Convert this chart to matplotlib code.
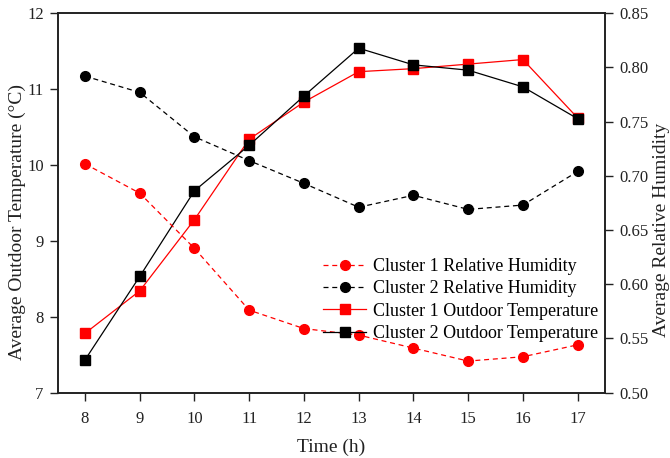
import matplotlib
matplotlib.use("Agg")
import matplotlib.pyplot as plt

plt.rcParams['font.family'] = ['Liberation Serif', 'DejaVu Serif']
plt.rcParams['mathtext.fontset'] = 'stix'

hours = [8, 9, 10, 11, 12, 13, 14, 15, 16, 17]
c1_temp = [7.78, 8.34, 9.28, 10.34, 10.83, 11.23, 11.27, 11.33, 11.39, 10.62]
c2_temp = [7.43, 8.53, 9.66, 10.26, 10.91, 11.54, 11.32, 11.25, 11.03, 10.61]
c1_rh = [0.711, 0.684, 0.633, 0.576, 0.559, 0.553, 0.541, 0.529, 0.533, 0.544]
c2_rh = [0.792, 0.777, 0.736, 0.714, 0.693, 0.671, 0.682, 0.669, 0.673, 0.704]

labels = ['Cluster 1 Relative Humidity', 'Cluster 2 Relative Humidity',
          'Cluster 1 Outdoor Temperature', 'Cluster 2 Outdoor Temperature']

fig = plt.figure(figsize=(6.7, 4.58), dpi=100)
ax = fig.add_axes([0.086, 0.143, 0.817, 0.828])
ax2 = ax.twinx()

l3, = ax.plot(hours, c1_temp, color='#ff0000', lw=0.9, marker='s', ms=6.5, label=labels[2])
l4, = ax.plot(hours, c2_temp, color='black', lw=0.9, marker='s', ms=6.5, label=labels[3])
l1, = ax2.plot(hours, c1_rh, color='#ff0000', lw=0.9, ls=(0, (4, 3)), marker='o', ms=7, label=labels[0])
l2, = ax2.plot(hours, c2_rh, color='black', lw=0.9, ls=(0, (4, 3)), marker='o', ms=7, label=labels[1])

ax.set_xlim(7.5, 17.5)
ax.set_ylim(7, 12)
ax2.set_ylim(0.50, 0.85)
ax.set_xticks(hours)
ax.set_yticks([7, 8, 9, 10, 11, 12])
rh_ticks = [0.50, 0.55, 0.60, 0.65, 0.70, 0.75, 0.80, 0.85]
ax2.set_yticks(rh_ticks)
ax2.set_yticklabels([f'{v:.2f}' for v in rh_ticks])

for a in (ax, ax2):
    a.tick_params(direction='out', length=6, width=1, labelsize=12, colors='#222222', pad=4)
    for s in a.spines.values():
        s.set_linewidth(1.2)
        s.set_color('#222222')
ax.tick_params(axis='x', pad=7)

ax.set_xlabel('Time (h)', fontsize=14, color='#222222', labelpad=9)
ax.set_ylabel('Average Outdoor Temperature (°C)', fontsize=14, color='#222222')
ax2.set_ylabel('Average Relative Humidity', fontsize=14, color='#222222')
ax.yaxis.set_label_coords(-0.058, 0.45)
ax2.yaxis.set_label_coords(1.088, 0.43)

leg = ax2.legend([l1, l2, l3, l4], labels, loc='upper right',
                 bbox_to_anchor=(1.0, 0.374), frameon=False, fontsize=13,
                 handlelength=2.4, handletextpad=0.35, labelspacing=0.3,
                 borderaxespad=0.0)

fig.savefig('out.png', dpi=100)
